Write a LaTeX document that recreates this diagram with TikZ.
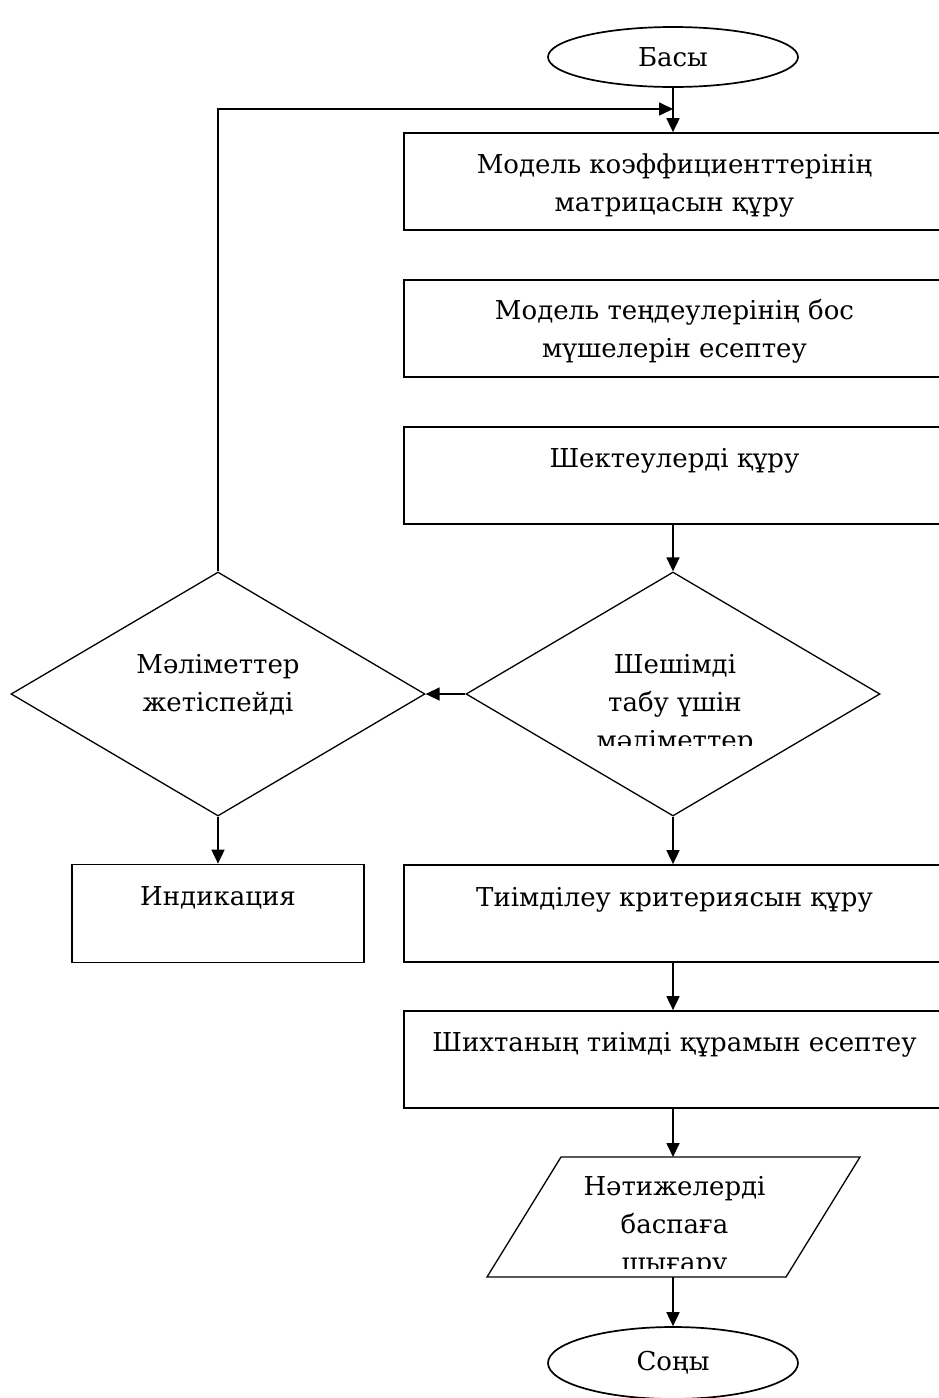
\documentclass[tikz,border=0pt]{standalone}
\usepackage{fontspec}
\setmainfont{DejaVu Serif}
\usetikzlibrary{arrows.meta,shapes.geometric}

\begin{document}
\begin{tikzpicture}[x=1pt,y=-1pt,line width=1.7pt,
  >={Triangle[length=14pt,width=13pt]},
  every node/.style={font=\fontsize{26}{38}\selectfont},
  term/.style={draw,ellipse,minimum width=250pt,inner sep=0pt},
  blk/.style={draw,minimum width=541pt,minimum height=97pt,inner sep=0pt},
  cond/.style={draw,diamond,line width=1.3pt,minimum width=414pt,minimum height=244pt,inner sep=0pt},
  lbl/.style={align=center,anchor=base,inner sep=0pt}]
 \useasboundingbox (0,0) rectangle (938,1398);
 % shapes
 \node[term,minimum height=60pt] (start) at (673,57) {Басы};
 \node[blk] (b1) at (674.5,181.5) {};
 \node[blk] (b2) at (674.5,328.5) {};
 \node[blk] (b3) at (674.5,475.5) {};
 \node[cond] (d2) at (673,694) {};
 \node[cond] (d1) at (218,694) {};
 \node[draw,minimum width=292pt,minimum height=98pt,inner sep=0pt] (ind) at (218,913.5) {};
 \node[blk] (b4) at (674.5,913.5) {};
 \node[blk] (b5) at (674.5,1059.5) {};
 % output parallelogram
 \draw[line width=1.3pt] (561,1157) -- (860,1157) -- (786,1277) -- (487,1277) -- cycle;
 \coordinate (out-n) at (673,1157);
 \coordinate (out-s) at (673,1277);
 \node[term,minimum height=72pt] (stop) at (673,1363) {Соңы};
 % texts (base = last line)
 \node[lbl] (t1) at ([yshift=-79pt]b1.north) {Модель коэффициенттерінің\\матрицасын құру};
 \node[lbl] (t2) at ([yshift=-78pt]b2.north) {Модель теңдеулерінің бос\\мүшелерін есептеу};
 \node[lbl] (t3) at ([yshift=-41pt]b3.north) {Шектеулерді құру};
 \node[lbl] (t4) at (218,711) {Мәліметтер\\жетіспейді};
 \begin{scope}
  \clip (470,600) rectangle (880,745);
  \node[lbl] (t5) at (675,749) {Шешімді\\табу үшін\\мәліметтер};
 \end{scope}
 \node[lbl] (t6) at ([yshift=-42pt]ind.north) {Индикация};
 \node[lbl] (t7) at ([yshift=-42pt]b4.north) {Тиімділеу критериясын құру};
 \node[lbl] (t8) at ([yshift=-41pt]b5.north) {Шихтаның тиімді құрамын есептеу};
 \begin{scope}
  \clip (500,1160) rectangle (850,1268);
  \node[lbl] (t9) at (674.5,1271) {Нәтижелерді\\баспаға\\шығару};
 \end{scope}
 % connectors
 \coordinate (loop) at (673,109);
 \draw[->] (start) -- (start |- b1.north);
 \draw[->] (d1.north) |- (loop);
 \draw[->] (b3.south -| d2.north) -- (d2.north);
 \draw[->] (d2.west) -- (d1.east);
 \draw[->] (d1.south) -- (ind.north);
 \draw[->] (d2.south) -- (d2.south |- b4.north);
 \draw[->] (b4.south -| d2.south) -- (d2.south |- b5.north);
 \draw[->] (b5.south -| d2.south) -- (out-n);
 \draw[->] (out-s) -- (stop.north);
\end{tikzpicture}
\end{document}
